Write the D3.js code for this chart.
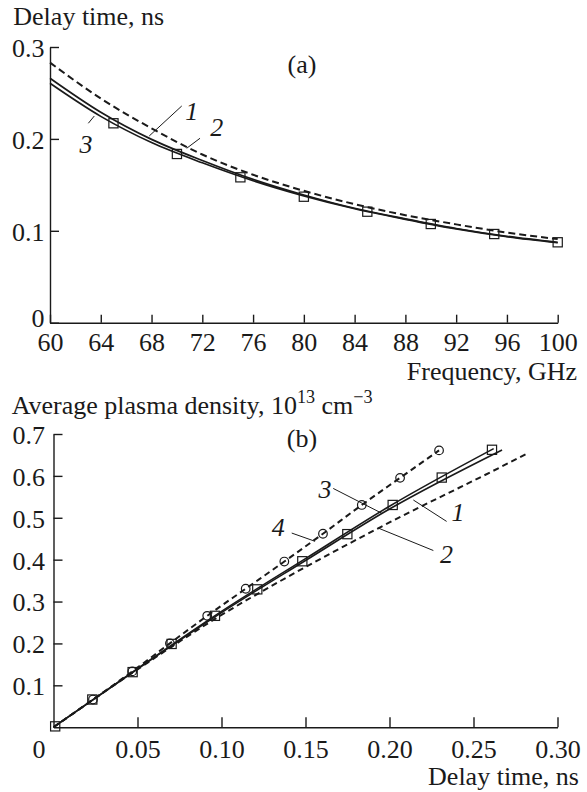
<!DOCTYPE html>
<html><head><meta charset="utf-8">
<script src="https://cdn.jsdelivr.net/npm/d3@7"></script>
<style>
body{margin:0;background:#fff}
</style>
</head><body>
<svg id="c" width="587" height="792"></svg>
<script>
// ---------- Panel (a) data ----------
const freqTicks = [60,64,68,72,76,80,84,88,92,96,100];
const delayTicksA = [0,0.1,0.2,0.3];
const freqCurve = [60,64,68,72,76,80,84,88,92,96,100];
const delayCurve1 = [0.266,0.229,0.1995,0.1765,0.156,0.139,0.1245,0.113,0.1025,0.094,0.0875];
const delayCurve2 = [0.283,0.244,0.2115,0.183,0.161,0.1435,0.129,0.117,0.107,0.098,0.091];
const delayCurve3 = [0.2605,0.2245,0.196,0.174,0.1545,0.138,0.124,0.1125,0.102,0.0935,0.087];
const freqSquares = [65,70,75,80,85,90,95,100];
const delaySquares = [0.217,0.1836,0.1582,0.1371,0.1208,0.1074,0.0965,0.0875];
const labelsA = ["1","2","3"];
const labelAx = [71.16,73.13,62.84];
const labelAy = [0.2206,0.2032,0.1843];
const leaderAx1 = [70.38,71.82,63.02], leaderAy1 = [0.2358,0.2007,0.217];
const leaderAx2 = [67.82,70.77,63.49], leaderAy2 = [0.2032,0.1898,0.2249];

// ---------- Panel (b) data ----------
const timeTicks = [0,0.05,0.10,0.15,0.20,0.25,0.30];
const timeTickLabels = ["0","0.05","0.10","0.15","0.20","0.25","0.30"];
const densTicks = [0.1,0.2,0.3,0.4,0.5,0.6,0.7];
const curve1T = [0,0.05,0.10,0.15,0.20,0.267];
const curve1N = [0,0.139,0.2735,0.398,0.521,0.662];
const curve3T = [0,0.05,0.10,0.15,0.20,0.262];
const curve3N = [0,0.140,0.2765,0.4025,0.5275,0.665];
const curve2T = [0,0.05,0.10,0.135,0.195,0.272,0.2826];
const curve2N = [0,0.138,0.268,0.349,0.4785,0.633,0.655];
const circT = [0.0235,0.0469,0.0693,0.0915,0.1144,0.1374,0.1604,0.1835,0.2063,0.2295];
const circN = [0.066,0.1332,0.2002,0.2659,0.3306,0.3955,0.4619,0.5306,0.5953,0.6609];
const sqT = [0.001,0.0231,0.0471,0.0703,0.0961,0.1213,0.1481,0.1749,0.2019,0.2311,0.261];
const sqN = [0.002,0.0661,0.1315,0.1988,0.2659,0.3291,0.3962,0.4609,0.5306,0.596,0.6623];
const labelsB = ["3","1","2","4"];
const labelBx = [0.1616,0.2408,0.2340,0.1338];
const labelBy = [0.5466,0.4914,0.3925,0.4558];
const leaderBx1 = [0.1665,0.2340,0.2261,0.1418], leaderBy1 = [0.5700,0.4913,0.4218,0.4635];
const leaderBx2 = [0.1954,0.2142,0.1933,0.1557], leaderBy2 = [0.5108,0.5424,0.4754,0.4438];

const svg = d3.select("#c");
const INK = "#1a1a1a";

// ---- pick an installed serif face (probe by text width) ----
const candidates = ["Liberation Serif","Times New Roman","Tinos","Nimbus Roman","DejaVu Serif","Noto Serif","FreeSerif","Linux Libertine O"];
const probe = svg.append("text").attr("x",-1000).attr("y",-1000).attr("font-size",40).text("Frequency, GHz mwil 0123");
function w(fam){ probe.style("font-family",fam); return probe.node().getComputedTextLength(); }
const baseMono = w("monospace"), baseSans = w("sans-serif");
let SERIF = "serif";
for (const c of candidates){
  const a = w(`'${c}', monospace`), b = w(`'${c}', sans-serif`);
  if (Math.abs(a-baseMono)>0.5 || Math.abs(b-baseSans)>0.5){ SERIF = `'${c}', serif`; break; }
}
probe.style("font-family",SERIF).attr("font-size",26).text("Frequency, GHz");
const FS = Math.min(26, 26*171.7/probe.node().getComputedTextLength());
probe.remove();

function styleAxis(g){
  g.attr("font-size",FS).attr("font-family",null).attr("color",INK);
  g.selectAll("path.domain").attr("stroke-width",1.4);
  g.selectAll(".tick line").attr("stroke-width",1.4);
}

// ===== Panel (a) =====
const xA = d3.scaleLinear().domain([60,100]).range([50,557.7]);
const yA = d3.scaleLinear().domain([0,0.3]).range([322.7,47]);

const gxA = svg.append("g").attr("transform",`translate(0,${yA(0)})`)
  .call(d3.axisBottom(xA).tickValues(freqTicks).tickSizeInner(-8).tickSizeOuter(0).tickFormat(d3.format("d")));
styleAxis(gxA);
gxA.selectAll(".tick text").attr("y",28.5).attr("dy",0);

const gyA = svg.append("g").attr("transform",`translate(${xA(60)},0)`)
  .call(d3.axisLeft(yA).tickValues(delayTicksA).tickSizeInner(-9).tickSizeOuter(0).tickPadding(5.5)
    .tickFormat(d => d===0 ? "0" : d3.format(".1f")(d)));
styleAxis(gyA);
gyA.selectAll(".tick text").attr("dy","0.36em");
gyA.selectAll(".tick").filter(d=>d===0).select("text").attr("dy","0.16em");

const lineA = (vals) => d3.line().x((d,i)=>xA(freqCurve[i])).y(d=>yA(d)).curve(d3.curveMonotoneX)(vals);
svg.append("path").attr("d",lineA(delayCurve2)).attr("fill","none").attr("stroke",INK).attr("stroke-width",2).attr("stroke-dasharray","7,4");
svg.append("path").attr("d",lineA(delayCurve1)).attr("fill","none").attr("stroke",INK).attr("stroke-width",1.7);
svg.append("path").attr("d",lineA(delayCurve3)).attr("fill","none").attr("stroke",INK).attr("stroke-width",1.7);

svg.append("g").selectAll("rect").data(freqSquares).join("rect")
  .attr("x",(d)=>xA(d)-4.6).attr("y",(d,i)=>yA(delaySquares[i])-4.6)
  .attr("width",9.2).attr("height",9.2).attr("fill","none").attr("stroke",INK).attr("stroke-width",1.2);

svg.append("g").selectAll("line").data(labelsA).join("line")
  .attr("x1",(d,i)=>xA(leaderAx1[i])).attr("y1",(d,i)=>yA(leaderAy1[i]))
  .attr("x2",(d,i)=>xA(leaderAx2[i])).attr("y2",(d,i)=>yA(leaderAy2[i]))
  .attr("stroke",INK).attr("stroke-width",1);
svg.append("g").selectAll("text").data(labelsA).join("text")
  .attr("x",(d,i)=>xA(labelAx[i])).attr("y",(d,i)=>yA(labelAy[i]))
  .attr("text-anchor","middle").attr("font-size",FS).attr("font-style","italic").text(d=>d);

svg.append("text").attr("x",13.3).attr("y",24.5).attr("font-size",FS).text("Delay time, ns");
svg.append("text").attr("x",302).attr("y",73).attr("text-anchor","middle").attr("font-size",FS).text("(a)");
svg.append("text").attr("x",577).attr("y",380).attr("text-anchor","end").attr("font-size",FS).text("Frequency, GHz");

// ===== Panel (b) =====
const xB = d3.scaleLinear().domain([0,0.3]).range([53.5,557.5]);
const yB = d3.scaleLinear().domain([0,0.7]).range([727.2,434]);

const gxB = svg.append("g").attr("transform",`translate(0,${yB(0)})`)
  .call(d3.axisBottom(xB).tickValues(timeTicks).tickSizeInner(-10).tickSizeOuter(0)
    .tickFormat((d,i)=>timeTickLabels[i]));
styleAxis(gxB);
gxB.selectAll(".tick text").attr("y",30.5).attr("dy",0);
gxB.selectAll(".tick").filter(d=>d===0).select("text").attr("dx",-15);
gxB.selectAll(".tick").filter(d=>d===0).select("line").remove();

const gyB = svg.append("g").attr("transform",`translate(${xB(0)},0)`)
  .call(d3.axisLeft(yB).tickValues(densTicks).tickSizeInner(-9).tickSizeOuter(0).tickPadding(8.5)
    .tickFormat(d3.format(".1f")));
styleAxis(gyB);
gyB.selectAll(".tick text").attr("dy","0.36em");

const lineB = (xs, ys) => d3.line().x((d,i)=>xB(xs[i])).y((d,i)=>yB(ys[i])).curve(d3.curveMonotoneX)(xs);
svg.append("path").attr("d",lineB(curve2T,curve2N)).attr("fill","none").attr("stroke",INK).attr("stroke-width",2).attr("stroke-dasharray","6,4");
svg.append("path").attr("d",lineB([0,...circT],[0,...circN])).attr("fill","none").attr("stroke",INK).attr("stroke-width",2).attr("stroke-dasharray","6,4");
svg.append("path").attr("d",lineB(curve1T,curve1N)).attr("fill","none").attr("stroke",INK).attr("stroke-width",1.6);
svg.append("path").attr("d",lineB(curve3T,curve3N)).attr("fill","none").attr("stroke",INK).attr("stroke-width",1.6);

svg.append("g").selectAll("circle").data(circT).join("circle")
  .attr("cx",d=>xB(d)).attr("cy",(d,i)=>yB(circN[i])).attr("r",4.3)
  .attr("fill","none").attr("stroke",INK).attr("stroke-width",1.2);
svg.append("g").selectAll("rect").data(sqT).join("rect")
  .attr("x",d=>xB(d)-4.6).attr("y",(d,i)=>yB(sqN[i])-4.6)
  .attr("width",9.2).attr("height",9.2).attr("fill","none").attr("stroke",INK).attr("stroke-width",1.2);

svg.append("g").selectAll("line").data(labelsB).join("line")
  .attr("x1",(d,i)=>xB(leaderBx1[i])).attr("y1",(d,i)=>yB(leaderBy1[i]))
  .attr("x2",(d,i)=>xB(leaderBx2[i])).attr("y2",(d,i)=>yB(leaderBy2[i]))
  .attr("stroke",INK).attr("stroke-width",1);
svg.append("g").selectAll("text").data(labelsB).join("text")
  .attr("x",(d,i)=>xB(labelBx[i])).attr("y",(d,i)=>yB(labelBy[i]))
  .attr("text-anchor","middle").attr("font-size",FS).attr("font-style","italic").text(d=>d);

const t = svg.append("text").attr("x",11.7).attr("y",414).attr("font-size",FS);
t.append("tspan").text("Average plasma density, 10");
t.append("tspan").attr("dy",-11).attr("font-size",FS*0.7).text("13");
t.append("tspan").attr("dy",11).text(" cm");
t.append("tspan").attr("dy",-11).attr("font-size",FS*0.7).text("\u22123");
svg.append("text").attr("x",302).attr("y",447).attr("text-anchor","middle").attr("font-size",FS).text("(b)");
svg.append("text").attr("x",579).attr("y",785).attr("text-anchor","end").attr("font-size",FS).text("Delay time, ns");

svg.selectAll("text").style("font-family", SERIF).style("fill", INK);
</script>
</body></html>
